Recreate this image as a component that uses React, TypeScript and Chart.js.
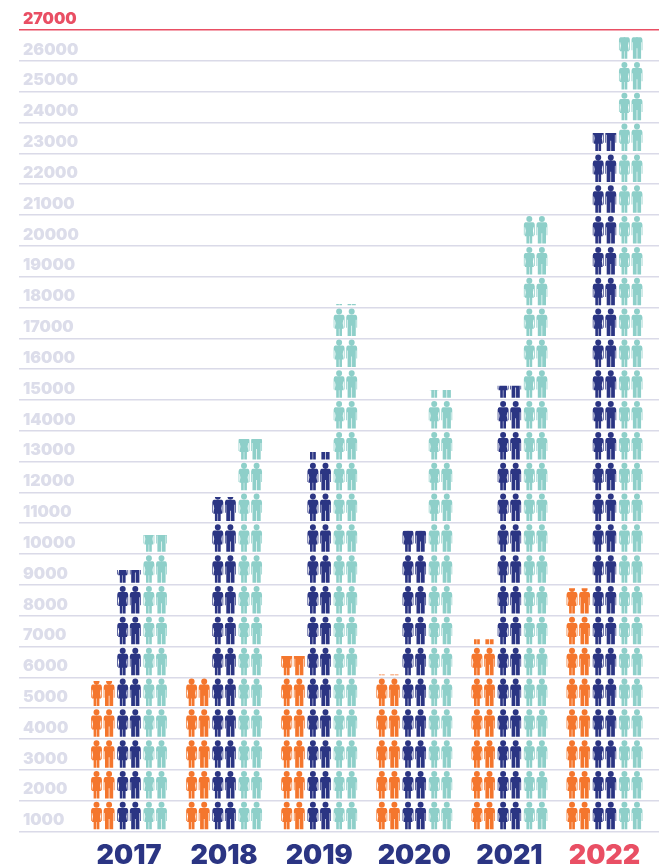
import React, { useEffect, useRef } from "react";
import { Chart, registerables, BarElement } from "chart.js";

const years = [2017, 2018, 2019, 2020, 2021, 2022];
const groupA = [5880, 5980, 6690, 6090, 7240, 8890];
const groupB = [9480, 11850, 13310, 10760, 15460, 23660];
const groupC = [10620, 13730, 18110, 15320, 21060, 26770];

const ORANGE = "#F4762D";
const NAVY = "#2B3583";
const TEAL = "#8ECFC9";
const RED = "#E94F64";
const PALE = "#DCDDEA";
const GRID = "#DADAE8";

function womanPath() {
  const p = new Path2D();
  p.arc(0, -26.7, 3, 0, Math.PI * 2);
  p.moveTo(-3.9, -23.6);
  p.lineTo(3.9, -23.6);
  p.quadraticCurveTo(5.3, -23.4, 5.45, -21);
  p.lineTo(5.45, -10.5);
  p.lineTo(4.7, -10.5);
  p.lineTo(4.7, -18.5);
  p.lineTo(4.2, -18.5);
  p.lineTo(3.6, -15);
  p.lineTo(4.5, -9.6);
  p.lineTo(2.9, -9.6);
  p.lineTo(2.9, -2.2);
  p.lineTo(0.25, -2.2);
  p.lineTo(0.25, -9.6);
  p.lineTo(-0.25, -9.6);
  p.lineTo(-0.25, -2.2);
  p.lineTo(-2.9, -2.2);
  p.lineTo(-2.9, -9.6);
  p.lineTo(-4.5, -9.6);
  p.lineTo(-3.6, -15);
  p.lineTo(-4.2, -18.5);
  p.lineTo(-4.7, -18.5);
  p.lineTo(-4.7, -10.5);
  p.lineTo(-5.45, -10.5);
  p.lineTo(-5.45, -21);
  p.quadraticCurveTo(-5.3, -23.4, -3.9, -23.6);
  p.closePath();
  return p;
}

function manPath() {
  const p = new Path2D();
  p.arc(0, -26.7, 3, 0, Math.PI * 2);
  p.moveTo(-3.9, -23.6);
  p.lineTo(3.9, -23.6);
  p.quadraticCurveTo(5.3, -23.4, 5.45, -21);
  p.lineTo(5.45, -10.5);
  p.lineTo(4.7, -10.5);
  p.lineTo(4.7, -18.5);
  p.lineTo(4.1, -18.5);
  p.lineTo(4.1, -2.2);
  p.lineTo(0.35, -2.2);
  p.lineTo(0.35, -12.5);
  p.lineTo(-0.35, -12.5);
  p.lineTo(-0.35, -2.2);
  p.lineTo(-4.1, -2.2);
  p.lineTo(-4.1, -18.5);
  p.lineTo(-4.7, -18.5);
  p.lineTo(-4.7, -10.5);
  p.lineTo(-5.45, -10.5);
  p.lineTo(-5.45, -21);
  p.quadraticCurveTo(-5.3, -23.4, -3.9, -23.6);
  p.closePath();
  return p;
}

let activeYScale: any = null;

class PictoBar extends BarElement {
  static id = "pictoBar";
  draw(ctx: CanvasRenderingContext2D) {
    const { x, y, base, width } = (this as any).getProps(["x", "y", "base", "width"], true);
    const yScale = activeYScale;
    if (!yScale) return;
    const value = yScale.getValueForPixel(y);
    const woman = womanPath();
    const man = manPath();
    const gap = width * 0.24;
    ctx.save();
    ctx.beginPath();
    ctx.rect(x - width / 2 - 1, y, width + 2, base - y);
    ctx.clip();
    ctx.fillStyle = (this as any).options.backgroundColor;
    for (let v = yScale.min; v < value; v += 1000) {
      const py = yScale.getPixelForValue(v);
      ctx.save();
      ctx.translate(x - gap, py);
      ctx.fill(woman);
      ctx.restore();
      ctx.save();
      ctx.translate(x + gap, py);
      ctx.fill(man);
      ctx.restore();
    }
    ctx.restore();
  }
}

Chart.register(...registerables);
Chart.register(PictoBar as any);
(Chart.defaults as any).datasets.bar.dataElementType = "pictoBar";

const FONT = "Inter";

export default function App() {
  const ref = useRef<HTMLCanvasElement>(null);
  useEffect(() => {
    if (!ref.current) return;
    const step = 95.1;
    const chart = new Chart(ref.current, {
      type: "bar",
      plugins: [
        {
          id: "shareScale",
          beforeDatasetsDraw: (c: any) => {
            activeYScale = c.scales.y;
          },
        },
      ],
      data: {
        datasets: [
          { label: "A", data: years.map((x, i) => ({ x, y: groupA[i] })), backgroundColor: ORANGE, base: 1000 },
          { label: "B", data: years.map((x, i) => ({ x, y: groupB[i] })), backgroundColor: NAVY, base: 1000 },
          { label: "C", data: years.map((x, i) => ({ x, y: groupC[i] })), backgroundColor: TEAL, base: 1000 },
        ] as any,
      },
      options: {
        responsive: false,
        animation: false,
        events: [],
        barThickness: 26.2,
        layout: { padding: { left: 19, top: 30, right: 0, bottom: 0 } },
        plugins: { legend: { display: false }, tooltip: { enabled: false }, title: { display: false } },
        scales: {
          x: {
            type: "linear",
            offset: false,
            bounds: "data",
            min: 2017 - 110 / step,
            max: 2022 + 54.5 / step,
            grid: { display: false, offset: false },
            border: { display: false },
            afterBuildTicks: (s: any) => {
              s.ticks = years.map((value) => ({ value }));
            },
            afterFit: (s: any) => {
              s.height = 35.5;
              s.paddingLeft = 0;
              s.paddingRight = 0;
            },
            ticks: {
              autoSkip: false,
              maxRotation: 0,
              padding: 0,
              callback: (v: any) => String(v),
              font: { family: FONT, size: 27, weight: 900 },
              color: (c: any) => (c.tick.value === 2022 ? RED : NAVY),
            },
          },
          y: {
            type: "linear",
            min: 1000,
            max: 27000,
            grid: {
              drawTicks: false,
              lineWidth: 1.5,
              color: (c: any) => (c.tick.value === 27000 ? RED : GRID),
            },
            border: { display: false },
            afterFit: (s: any) => {
              s.width = 0;
              s.paddingTop = 0;
              s.paddingBottom = 0;
            },
            ticks: {
              stepSize: 1000,
              autoSkip: false,
              mirror: true,
              padding: 4,
              labelOffset: -11,
              callback: (v: any) => String(v),
              font: { family: FONT, size: 16, weight: 900 },
              color: (c: any) => (c.tick.value === 27000 ? RED : PALE),
            },
          },
        },
      } as any,
    });
    return () => chart.destroy();
  }, []);
  return (
    <div style={{ position: "absolute", left: 0, top: 0, width: 659, height: 867, background: "#fff" }}>
      <canvas ref={ref} width={659} height={867} style={{ display: "block" }} />
    </div>
  );
}
